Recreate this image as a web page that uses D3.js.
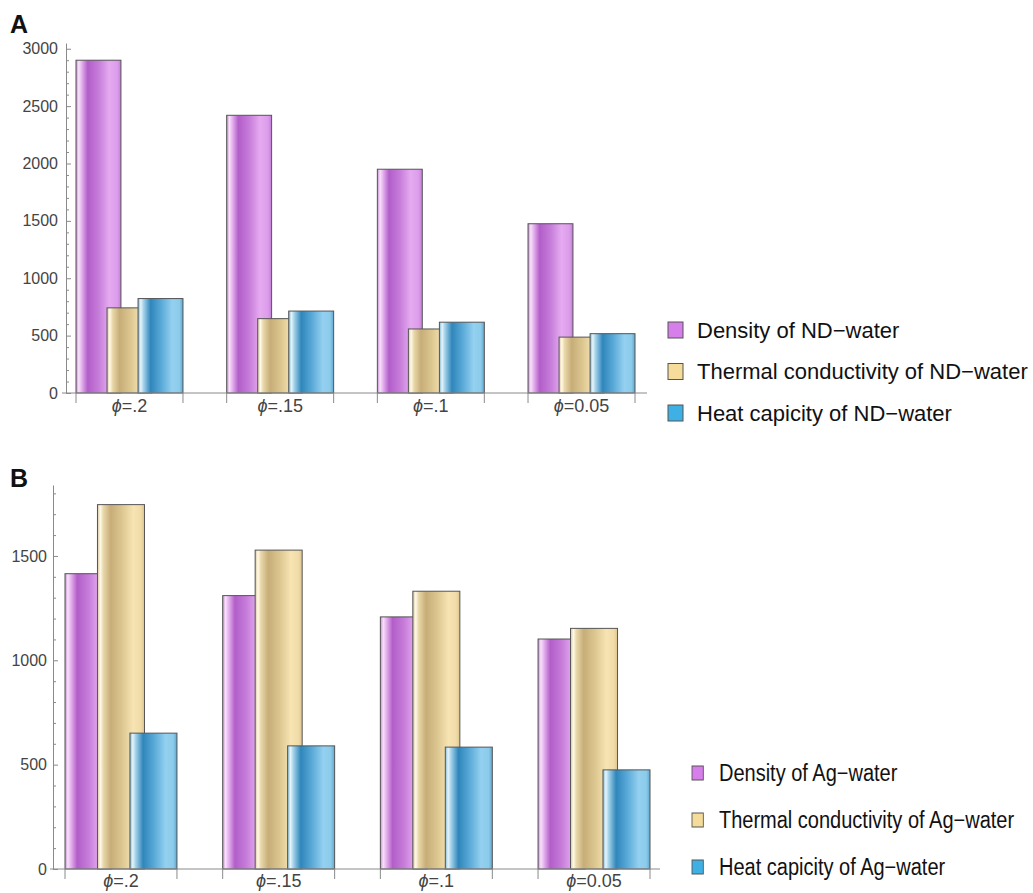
<!DOCTYPE html>
<html>
<head>
<meta charset="utf-8">
<script src="https://cdn.jsdelivr.net/npm/d3@7/dist/d3.min.js"></script>
<style>
  body { margin: 0; background: #fff; }
  svg { display: block; font-family: "Liberation Sans", Arial, sans-serif; }
  .tick text { fill: #444; font-size: 16px; }
  .axis path, .axis line { stroke: #8a8a8a; }
</style>
</head>
<body>
<svg id="chart" width="1033" height="893"></svg>
<script>
// categories (volume fraction)
const phiLabels = ['=.2', '=.15', '=.1', '=0.05'];

// panel A : ND-water
const densityND = [2900, 2420, 1950, 1475];
const thermalND = [742, 648, 558, 487];
const heatND = [823, 714, 617, 517];
const namesND = ['Density of ND\u2212water', 'Thermal conductivity of ND\u2212water', 'Heat capicity of ND\u2212water'];

// panel B : Ag-water
const densityAg = [1415, 1310, 1208, 1102];
const thermalAg = [1746, 1528, 1331, 1153];
const heatAg = [651, 590, 584, 475];
const namesAg = ['Density of Ag\u2212water', 'Thermal conductivity of Ag\u2212water', 'Heat capicity of Ag\u2212water'];

const svg = d3.select('#chart');
const defs = svg.append('defs');

// glassy gradients, one per series
const glass = [
  { id: 'gPurple', solid: '#d67ee9', stops: [['0%', '#c98ad8'], ['6%', '#f6e2f8'], ['12%', '#e7b6ef'], ['26%', '#b25ec9'], ['50%', '#c67cd9'], ['74%', '#e5aaf0'], ['92%', '#dc9ceb'], ['100%', '#c27fd6']] },
  { id: 'gTan', solid: '#f5dc9a', stops: [['0%', '#d8c79a'], ['6%', '#fffaea'], ['12%', '#ead9ab'], ['28%', '#c7ad78'], ['52%', '#dcc690'], ['76%', '#f7e4b3'], ['92%', '#f1dca8'], ['100%', '#dcc48e']] },
  { id: 'gBlue', solid: '#3fb0e4', stops: [['0%', '#7fb8d6'], ['6%', '#e6f5fb'], ['12%', '#a6d3ea'], ['28%', '#2f86bb'], ['52%', '#5aaad8'], ['76%', '#94d0f0'], ['92%', '#8ccbea'], ['100%', '#5ea8d2']] }
];
glass.forEach(gr => {
  const lg = defs.append('linearGradient').attr('id', gr.id)
    .attr('x1', 0).attr('x2', 1).attr('y1', 0).attr('y2', 0);
  gr.stops.forEach(s => lg.append('stop').attr('offset', s[0]).attr('stop-color', s[1]));
});

//draws one grouped bar panel
const panel = (cfg) => {
  const series = [cfg.a, cfg.b, cfg.c];
  const g = svg.append('g');

  const y = d3.scaleLinear().domain([0, cfg.yMax]).range([cfg.y0, cfg.yTop]);
  const x0 = d3.scaleBand().domain(phiLabels).range(cfg.xRange).paddingInner(0.29);
  const bw = x0.bandwidth();
  const barW = bw * 0.42;
  // bars overlap: offsets inside a group
  const xi = d3.scalePoint().domain([0, 1, 2]).range([0, bw - barW]);

  // y axis, minor ticks then major ticks (pointing inward)
  const minor = d3.range(0, cfg.yMax, 100).filter(v => v % 500 !== 0);
  g.append('g').attr('class', 'axis')
    .attr('transform', `translate(${cfg.axisX},0)`)
    .call(d3.axisLeft(y).tickValues(minor).tickSize(-3).tickSizeOuter(0).tickFormat(''))
    .select('.domain').remove();
  g.append('g').attr('class', 'axis')
    .attr('transform', `translate(${cfg.axisX},0)`)
    .call(d3.axisLeft(y).tickValues(cfg.major).tickSize(-5).tickSizeOuter(0)
      .tickPadding(cfg.pad).tickFormat(d3.format('d')))
    .call(a => a.selectAll('text').attr('font-family', 'Liberation Sans, Arial, sans-serif'));

  // bars
  series.forEach((vals, si) => {
    g.append('g').selectAll('rect').data(vals).enter().append('rect')
      .attr('x', (d, i) => x0(phiLabels[i]) + xi(si))
      .attr('y', d => y(d))
      .attr('width', barW)
      .attr('height', d => cfg.y0 - y(d))
      .attr('fill', `url(#${glass[si].id})`)
      .attr('stroke', '#555')
      .attr('stroke-width', 1);
  });

  // x axis line + group edge ticks
  g.append('line').attr('x1', cfg.xLine[0]).attr('x2', cfg.xLine[1])
    .attr('y1', cfg.y0).attr('y2', cfg.y0).attr('stroke', '#8a8a8a');
  const edges = phiLabels.flatMap(c => [x0(c), x0(c) + bw]);
  g.append('g').selectAll('line').data(edges).enter().append('line')
    .attr('x1', d => d).attr('x2', d => d)
    .attr('y1', cfg.y0).attr('y2', cfg.y0 + 10)
    .attr('stroke', '#8a8a8a');

  const lab = g.append('g').selectAll('text').data(phiLabels).enter().append('text')
    .attr('x', d => x0(d) + bw / 2)
    .attr('y', cfg.labelY)
    .attr('text-anchor', 'middle')
    .attr('font-size', 18)
    .attr('fill', '#444');
  lab.append('tspan').attr('font-style', 'italic').text('\u03d5');
  lab.append('tspan').text(d => d);

  // panel letter
  svg.append('text').attr('x', 10).attr('y', cfg.letterY)
    .attr('font-size', 25).attr('font-weight', 'bold').attr('fill', '#111')
    .text(cfg.letter);

  // legend
  const leg = svg.append('g')
    .attr('transform', `translate(${cfg.legX},${cfg.legY}) scale(${cfg.legSx},1)`);
  cfg.names.forEach((n, i) => {
    leg.append('rect').attr('x', 0).attr('y', i * cfg.legGap - cfg.sq / 2)
      .attr('width', cfg.sq - 1).attr('height', cfg.sq)
      .attr('fill', glass[i].solid).attr('stroke', '#555');
    leg.append('text').attr('x', cfg.legTx).attr('y', i * cfg.legGap + cfg.fs * 0.36)
      .attr('font-size', cfg.fs).attr('fill', '#111').text(n);
  });
};

panel({
  a: densityND, b: thermalND, c: heatND, names: namesND, letter: 'A', letterY: 33,
  yMax: 3050, y0: 393, yTop: 43, major: d3.range(0, 3001, 500), axisX: 66, pad: 8,
  xRange: [76, 635], xLine: [62, 647], labelY: 412,
  legX: 668, legY: 330, legGap: 41.5, legTx: 29, fs: 22, sq: 16, legSx: 1
});

panel({
  a: densityAg, b: thermalAg, c: heatAg, names: namesAg, letter: 'B', letterY: 487,
  yMax: 1840, y0: 869, yTop: 485, major: d3.range(0, 1501, 500), axisX: 53, pad: 6,
  xRange: [65, 650], xLine: [50, 660], labelY: 887,
  legX: 692, legY: 773, legGap: 47, legTx: 31, fs: 23, sq: 14, legSx: 0.87
});
</script>
</body>
</html>
